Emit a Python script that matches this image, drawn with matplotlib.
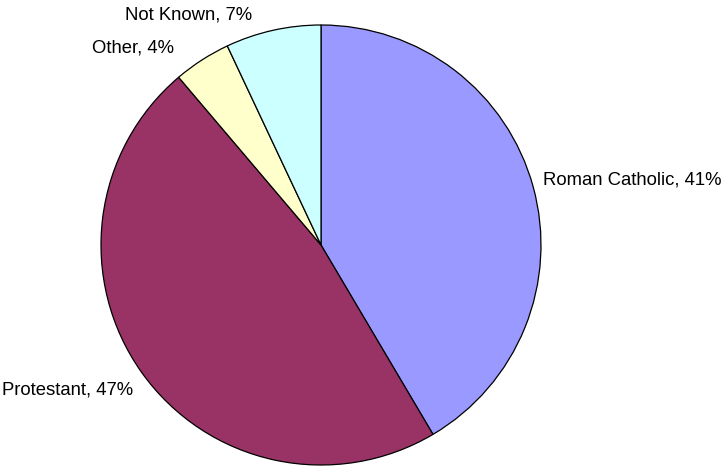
import matplotlib
matplotlib.use("Agg")
import matplotlib.pyplot as plt

categories = ["Roman Catholic", "Protestant", "Other", "Not Known"]
values = [41.5, 47.3, 4.2, 7.0]
pct_labels = ["41%", "47%", "4%", "7%"]
colors = ["#9999FF", "#993366", "#FFFFCC", "#CCFFFF"]

# label anchor positions (data units, pie radius = 1) and alignment
label_pos = [(1.009, 0.295, "left"), (-0.855, -0.659, "right"),
             (-0.668, 0.895, "right"), (-0.314, 1.045, "right")]

W, H = 726, 466
fig = plt.figure(figsize=(W / 100, H / 100), dpi=100)
cx, cy, r = 321, 245, 220
ax = fig.add_axes([(cx - r) / W, (H - cy - r) / H, 2 * r / W, 2 * r / H])
ax.pie(values, colors=colors, startangle=90, counterclock=False, radius=1,
       wedgeprops=dict(edgecolor="black", linewidth=0.9))
ax.set_xlim(-1, 1)
ax.set_ylim(-1, 1)
ax.set_aspect("equal")
ax.axis("off")

for cat, p, (x, y, ha) in zip(categories, pct_labels, label_pos):
    ax.text(x, y, f"{cat}, {p}", ha=ha, va="center", fontsize=13.3,
            family=["Liberation Sans", "DejaVu Sans"], color="black")

fig.savefig("out.png", dpi=100)
